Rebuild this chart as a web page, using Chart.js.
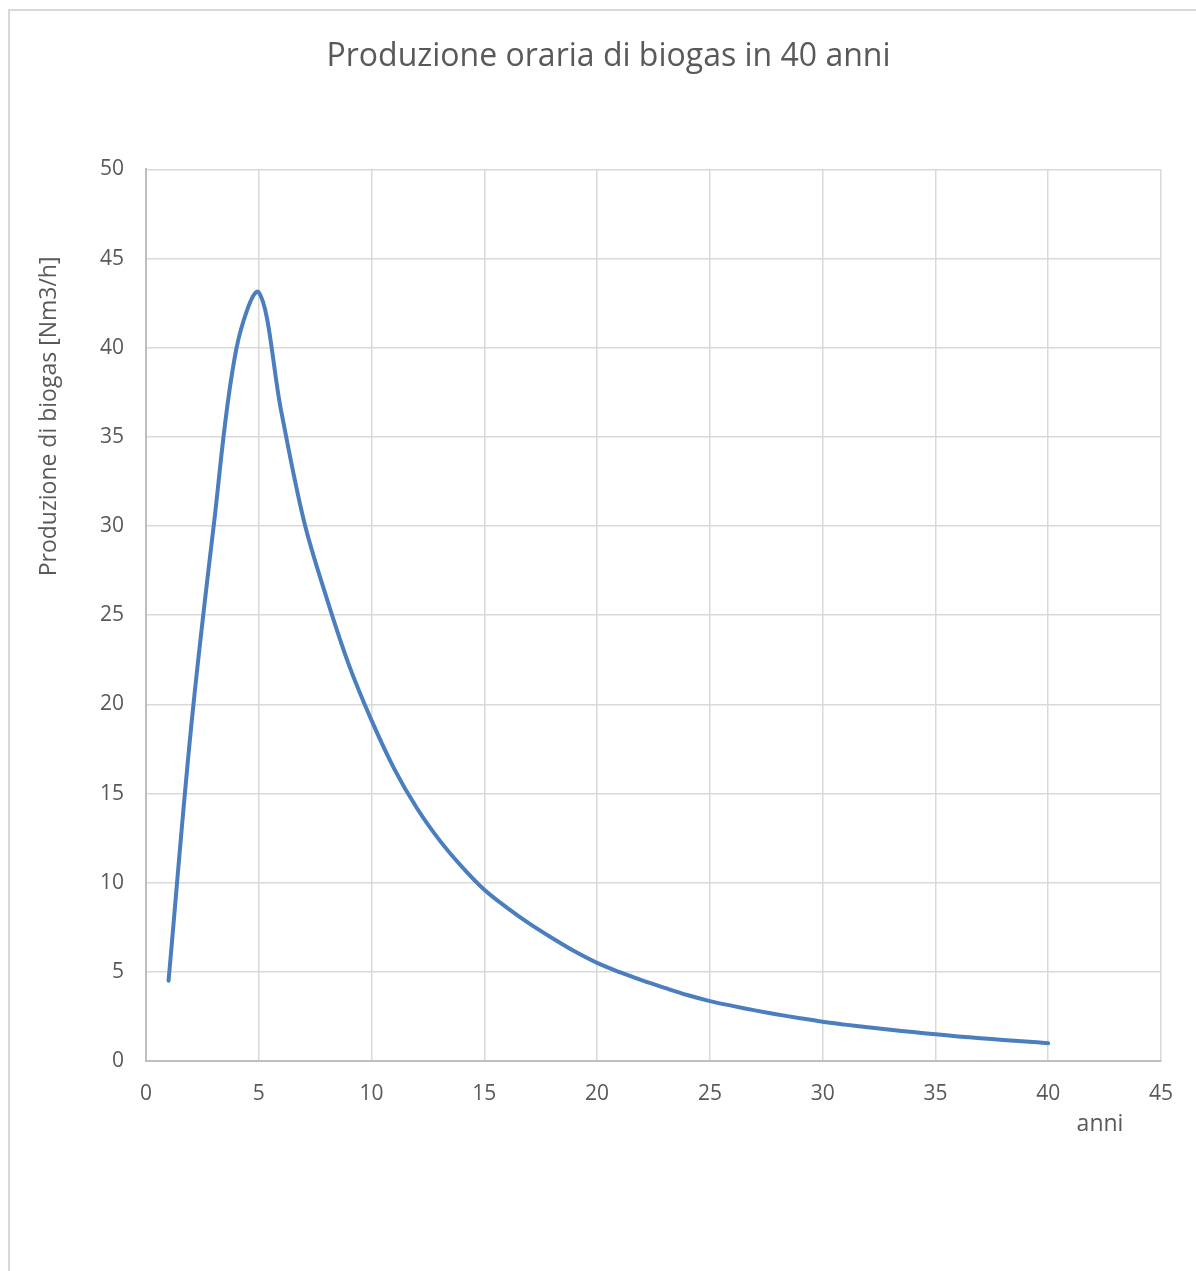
<!DOCTYPE html>
<html>
<head>
<meta charset="utf-8">
<script src="https://cdn.jsdelivr.net/npm/chart.js@4.4.0/dist/chart.umd.min.js"></script>
<style>
  html, body { margin: 0; padding: 0; background: #ffffff; overflow: hidden; }
  #frame { position: absolute; left: 8px; top: 9px; width: 1300px; height: 1400px; border: 2px solid #d9d9d9; box-sizing: border-box; }
  #c { position: absolute; left: 0; top: 0; }
</style>
</head>
<body>
<div id="frame"></div>
<canvas id="c" width="1196" height="1271"></canvas>
<script>
const chartTitle = "Produzione oraria di biogas in 40 anni";
const xAxisTitle = "anni";
const yAxisTitle = "Produzione di biogas [Nm3/h]";
const years = [1,2,3,4,5,6,7,8,9,10,11,12,13,14,15,16,17,18,19,20,21,22,23,24,25,26,27,28,29,30,31,32,33,34,35,36,37,38,39,40];
const biogas = [4.5,18.7,30.0,39.9,43.1,36.4,30.3,26.0,22.2,19.1,16.4,14.2,12.4,10.9,9.6,8.6,7.7,6.9,6.15,5.5,4.98,4.52,4.1,3.7,3.36,3.09,2.84,2.61,2.4,2.2,2.04,1.89,1.75,1.62,1.5,1.38,1.28,1.18,1.09,1.0];
const xTicks = [0,5,10,15,20,25,30,35,40,45];
const yTicks = [0,5,10,15,20,25,30,35,40,45,50];

const FONT = "'Open Sans', 'Noto Sans', sans-serif";
const TXT = "#595959";

const axisTitles = {
  id: 'axisTitles',
  afterDraw(chart) {
    const ctx = chart.ctx;
    const area = chart.chartArea;
    ctx.save();
    ctx.fillStyle = TXT;
    ctx.font = "23px " + FONT;
    ctx.textAlign = 'center';
    ctx.textBaseline = 'middle';
    ctx.fillText(xAxisTitle, area.right - 61, area.bottom + 63);
    ctx.translate(49, area.top + 247);
    ctx.rotate(-Math.PI / 2);
    ctx.fillText(yAxisTitle, 0, 0);
    ctx.restore();
  }
};

new Chart(document.getElementById('c'), {
  type: 'line',
  data: {
    datasets: [{
      data: years.map((x, i) => ({ x: x, y: biogas[i] })),
      borderColor: '#4A7EBF',
      borderWidth: 4,
      pointRadius: 0,
      pointHoverRadius: 0,
      tension: 0.35,
      fill: false,
      borderCapStyle: 'round',
      borderJoinStyle: 'round'
    }]
  },
  options: {
    responsive: false,
    animation: false,
    events: [],
    layout: { padding: { top: 0, left: 56, right: 35, bottom: 0 } },
    plugins: {
      legend: { display: false },
      tooltip: { enabled: false },
      title: {
        display: true,
        text: chartTitle,
        color: TXT,
        font: { family: FONT, size: 32, weight: 'normal', lineHeight: 1.2 },
        padding: { top: 38, bottom: 93 }
      }
    },
    scales: {
      x: {
        type: 'linear',
        min: 0,
        max: 45,
        afterBuildTicks(scale) { scale.ticks = xTicks.map(v => ({ value: v })); },
        afterFit(scale) { scale.height = 210; },
        ticks: { color: TXT, font: { family: FONT, size: 21 }, padding: 20, maxRotation: 0, autoSkip: false },
        grid: { color: '#d9d9d9', lineWidth: 1.5, drawTicks: false },
        border: { color: '#bfbfbf', width: 2 }
      },
      y: {
        min: 0,
        max: 50,
        afterBuildTicks(scale) { scale.ticks = yTicks.map(v => ({ value: v })); },
        afterFit(scale) { scale.width = 90; },
        ticks: { color: TXT, font: { family: FONT, size: 21 }, padding: 22 },
        grid: { color: '#d9d9d9', lineWidth: 1.5, drawTicks: false },
        border: { color: '#bfbfbf', width: 2 }
      }
    }
  },
  plugins: [axisTitles]
});
</script>
</body>
</html>
